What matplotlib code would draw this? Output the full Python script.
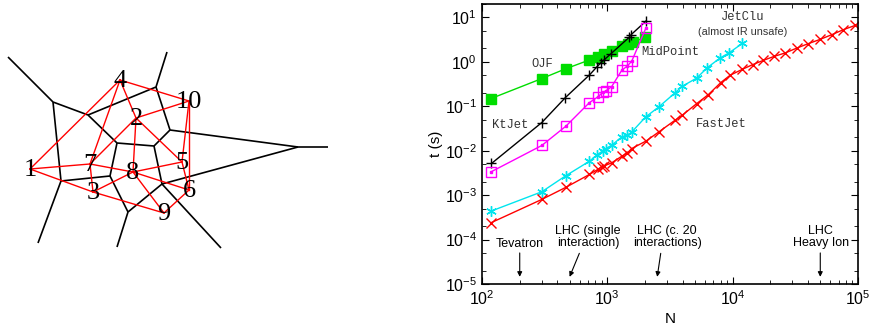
import matplotlib
matplotlib.use('Agg')
import matplotlib.pyplot as plt
from matplotlib.ticker import LogLocator, NullFormatter

# ---- left panel: voronoi diagram of ten points (pixel units, y down)
point_labels = ["1", "2", "3", "4", "5", "6", "7", "8", "9", "10"]
point_x = [30, 136, 93, 120, 182, 189, 90, 133, 164, 189]
point_y = [169, 118, 192, 80, 162, 190, 164, 172, 213, 101]

# red lines join voronoi neighbours
neighbour_pairs = [(1, 4), (1, 7), (1, 3), (4, 7), (4, 2), (4, 10), (10, 2), (10, 5),
                   (10, 6), (2, 5), (2, 8), (2, 7), (7, 8), (7, 3), (8, 5), (8, 9),
                   (8, 3), (8, 6), (5, 6), (3, 9), (9, 6)]

cell_vertices = {
    "A": (8, 57), "B": (53, 102), "C": (88, 115), "D": (156, 87), "E": (167, 52),
    "F": (170, 130), "G": (298, 147), "H": (328, 147), "I": (117, 143), "J": (154, 146),
    "K": (110, 176), "L": (61, 181), "M": (38, 243), "N": (162, 184), "O": (128, 212),
    "P": (117, 247), "Q": (221, 248),
}
cell_edges = ["AB", "BC", "BL", "CD", "DE", "DF", "CI", "FJ", "IJ", "FG", "GH", "GN",
              "JN", "IK", "KL", "LM", "KO", "ON", "OP", "NQ"]

# ---- right panel: timing vs N
ojf_n = [118, 300, 467, 720, 838, 942, 1083, 1303, 1455, 1614, 2000]
ojf_t = [0.149, 0.42, 0.70, 1.10, 1.28, 1.48, 1.72, 2.31, 2.56, 2.74, 3.6]

ktjet_n = [119, 300, 463, 720, 822, 891, 947, 1071, 1500, 1550, 2037]
ktjet_t = [0.00515, 0.043, 0.157, 0.506, 0.76, 0.96, 1.12, 1.53, 3.6, 4.1, 8.3]

midpoint_n = [118, 300, 467, 720, 838, 929, 970, 1083, 1303, 1445, 1567, 2037]
midpoint_t = [0.00334, 0.0131, 0.0356, 0.121, 0.162, 0.21, 0.22, 0.277, 0.644, 0.805, 1.04, 5.86]

jetclu_n = [118, 300, 465, 720, 822, 918, 977, 1083, 1303, 1445, 1567, 2023, 2572, 3467,
            3960, 5170, 6280, 7940, 9420, 11950]
jetclu_t = [0.000436, 0.00119, 0.00272, 0.0058, 0.00792, 0.0099, 0.0112, 0.0133, 0.0204,
            0.0223, 0.0264, 0.0575, 0.0964, 0.2, 0.281, 0.432, 0.74, 1.22, 1.61, 2.6]

fastjet_n = [118, 300, 465, 720, 838, 902, 947, 1083, 1303, 1445, 1567, 2037, 2572, 3467,
             3960, 5170, 6400, 8030, 9530, 11950, 14450, 17600, 21500, 26200, 32500,
             40200, 49900, 61800, 76600, 94900]
fastjet_t = [0.000239, 0.0008, 0.00149, 0.00292, 0.00378, 0.00433, 0.00457, 0.00532,
             0.0075, 0.0089, 0.0112, 0.0165, 0.0264, 0.0484, 0.0628, 0.115, 0.183, 0.34,
             0.498, 0.678, 0.865, 1.08, 1.33, 1.58, 2.04, 2.57, 3.2, 4.08, 5.3, 6.6]

experiments = ["Tevatron", "LHC (single\ninteraction)", "LHC (c. 20\ninteractions)", "LHC\nHeavy Ion"]
experiment_n = [200, 500, 2500, 50000]

plt.rcParams['font.family'] = ['Liberation Sans', 'DejaVu Sans']
fig = plt.figure(figsize=(8.72, 3.30), dpi=100)

# left
axv = fig.add_axes([0, 0, 340 / 872, 1])
axv.set_xlim(0, 340)
axv.set_ylim(330, 0)
axv.axis('off')
for e in cell_edges:
    (x0, y0), (x1, y1) = cell_vertices[e[0]], cell_vertices[e[1]]
    axv.plot([x0, x1], [y0, y1], color='black', lw=1.2, solid_capstyle='butt')
for a, b in neighbour_pairs:
    axv.plot([point_x[a - 1], point_x[b - 1]], [point_y[a - 1], point_y[b - 1]],
             color='red', lw=1.0)
for lab, x, y in zip(point_labels, point_x, point_y):
    axv.text(x, y + 1, lab, family='Liberation Serif', fontsize=19,
             ha='center', va='center', zorder=5)

# right
ax = fig.add_axes([482 / 872, 1 - 284 / 330, 376 / 872, 280 / 330])
ax.set_xscale('log')
ax.set_yscale('log')

ax.plot(ojf_n, ojf_t, color='#00dd00', marker='s', ms=6.5, lw=1.0)
ax.plot(ktjet_n, ktjet_t, color='black', marker='+', ms=6.5, mew=1.0, lw=1.0)
ax.plot(midpoint_n, midpoint_t, color='#ff00ff', marker='s', ms=6.5, mfc='none', mew=1.0, lw=1.0)
ax.plot(midpoint_n, midpoint_t, ls='none', color='#ff00ff', marker='s', ms=1.5)
ax.plot(jetclu_n, jetclu_t, color='#00e5ee', marker=(6, 2, 0), ms=7.5, mew=1.0, lw=1.0)
ax.plot(fastjet_n, fastjet_t, color='red', marker='x', ms=6.5, mew=1.0, lw=1.0)

mono = dict(family='Liberation Mono', fontsize=8.7, color='#333333', ha='center', va='center')
ax.text(300, 0.9, "OJF", **mono)
ax.text(167, 0.037, "KtJet", **mono)
ax.text(3200, 1.63, "MidPoint", **mono)
ax.text(8100, 0.04, "FastJet", **mono)
ax.text(12000, 10.0, "JetClu", **mono)
ax.text(12000, 4.8, "(almost IR unsafe)", fontsize=7.8, color='#333333', ha='center', va='center')

ann_y = [7.9e-5, 1.16e-4, 1.16e-4, 1.16e-4]
ann_x = [200, 700, 3000, 50500]
ann_tail = [(200, 5.0e-5), (598, 4.9e-5), (2667, 4.9e-5), (50000, 5.0e-5)]
for lab, n, tx, ty, tail in zip(experiments, experiment_n, ann_x, ann_y, ann_tail):
    ax.text(tx, ty, lab, fontsize=9, ha='center', va='center', linespacing=1.0)
    ax.annotate("", xy=(n, 1.45e-5), xytext=tail,
                arrowprops=dict(arrowstyle='-|>', color='black', lw=0.8,
                                mutation_scale=7, shrinkA=0, shrinkB=0))

ax.set_xlim(100, 1e5)
ax.set_ylim(1e-5, 20)
ax.yaxis.set_major_locator(LogLocator(base=10, numticks=20))
ax.yaxis.set_minor_locator(LogLocator(base=10, subs=(2.0, 5.0), numticks=20))
ax.yaxis.set_minor_formatter(NullFormatter())
ax.tick_params(which='both', direction='in', top=True, right=True, labelsize=11.5)
ax.tick_params(axis='x', pad=4)
ax.tick_params(which='major', length=5, width=0.8)
ax.tick_params(which='minor', length=3, width=0.6)
for s in ax.spines.values():
    s.set_linewidth(1.2)
ax.set_xlabel("N", fontsize=11, labelpad=3)
ax.set_ylabel("t (s)", fontsize=11, labelpad=1)

fig.savefig("out.png", dpi=100)
